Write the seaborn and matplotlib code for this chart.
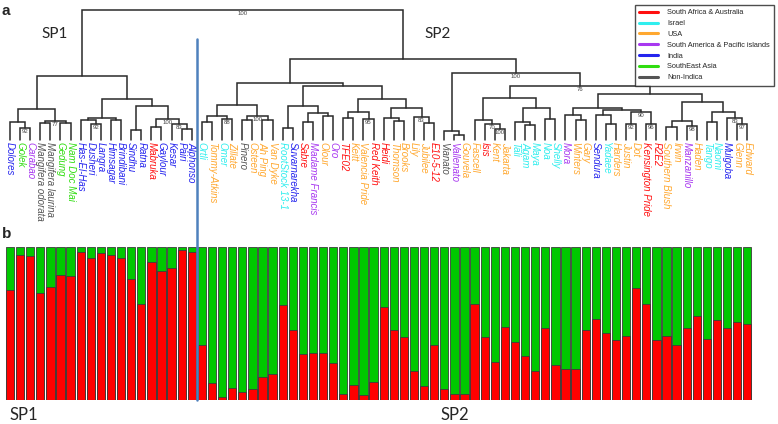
import matplotlib
matplotlib.use("Agg")
import matplotlib.pyplot as plt
import matplotlib.transforms as mtransforms
from matplotlib.lines import Line2D
import pandas as pd
import seaborn as sns

sns.set_style("white")
plt.rcParams["font.family"] = ["Liberation Sans", "DejaVu Sans"]

W, H = 778, 424

# cultivars in the order of the dendrogram leaves
sp1_names = ["Dolores", "Golek", "Carabao", "Mangifera odorata", "Mangifera laurina", "Gedung",
             "Nam Doc Mai", "Has-El-Has", "Dusheri", "Langra", "Himsagar", "Brindibani", "Sindhu",
             "Ratna", "Mabruka", "Gaylour", "Kesar", "Pairi", "Alphonso"]
sp1_origin = ["IN", "SEA", "SAP", "NI", "NI", "SEA", "SEA", "IN", "IN", "IN", "IN", "IN", "IN",
              "IN", "SAA", "IN", "IN", "IN", "IN"]
sp2_names = ["Ortli", "Tommy-Atkins", "Omer", "Zillate", "Pinero", "Osteen", "Ah Ping", "Van Dyke",
             "RootStock 13-1", "Suvarnarekha", "Sabre", "Madame Francis", "Olour", "Oro", "TFE02",
             "Keitt", "Valencia Pride", "Red Keith", "Heidi", "Thomson", "Brooks", "Lily", "Jubilee",
             "E10-5-12", "Vianato", "Vallenato", "Gouvela", "Fascell", "Isis", "Kent", "Jakarta",
             "Tali", "Agam", "Maya", "Noa", "Shelly", "Mora", "Winters", "Gary", "Sendura", "Yadaee",
             "Harders", "Justin", "Dot", "Kensington Pride", "R2E2", "Southern Blush", "Irwin",
             "Manzanillo", "Haden", "Tango", "Naomi", "Mulgoba", "Glenn", "Edward"]
sp2_origin = ["IL", "US", "IL", "US", "NI", "US", "US", "US", "IL", "IN", "SAA", "SAP", "US", "SAP",
              "SAA", "US", "US", "SAA", "SAA", "US", "US", "US", "US", "SAA", "NI", "SAP", "US", "US",
              "SAA", "US", "US", "IL", "IL", "IL", "IL", "IL", "SAP", "US", "US", "IN", "IL", "US",
              "US", "US", "SAA", "SAA", "US", "US", "SAP", "US", "IL", "IL", "IN", "US", "US"]

# proportion of the red (SP1) ancestry per cultivar, same order
sp1_red = [0.72, 0.95, 0.94, 0.70, 0.74, 0.82, 0.81, 0.97, 0.93, 0.96, 0.95, 0.93, 0.79, 0.63,
           0.90, 0.84, 0.86, 0.98, 0.97]
sp2_red = [0.36, 0.11, 0.02, 0.08, 0.05, 0.07, 0.15, 0.17, 0.62, 0.46, 0.30, 0.31, 0.31, 0.24,
           0.04, 0.10, 0.03, 0.12, 0.61, 0.46, 0.41, 0.19, 0.09, 0.36, 0.07, 0.04, 0.04, 0.63,
           0.41, 0.25, 0.48, 0.38, 0.29, 0.19, 0.47, 0.23, 0.20, 0.20, 0.46, 0.53, 0.44, 0.39,
           0.42, 0.73, 0.63, 0.39, 0.42, 0.36, 0.47, 0.55, 0.40, 0.52, 0.47, 0.51, 0.50]

origin_keys = ["SAA", "IL", "US", "SAP", "IN", "SEA", "NI"]
origin_labels = ["South Africa & Australia", "Israel", "USA", "South America & Pacific islands",
                 "India", "SouthEast Asia", "Non-Indica"]
origin_colors = ["#FF1010", "#30EEEE", "#FFA830", "#A838F0", "#2424EE", "#30DD10", "#555555"]

# tree nodes: (left, right, height, bootstrap)
sp1_tree = (
    (("Dolores", ("Golek", "Carabao", 12, 92), 18, None),
     (("Mangifera odorata", "Mangifera laurina", 17, None), ("Gedung", "Nam Doc Mai", 17, None), 19, 77),
     31, None),
    ((("Has-El-Has", ("Dusheri", "Langra", 16, 92), 20, None), ("Himsagar", "Brindibani", 20, None), 22, None),
     (("Sindhu", "Ratna", 10, None),
      (("Mabruka", "Gaylour", 13, None), ("Kesar", ("Pairi", "Alphonso", 11, None), 16, 83), 21, 100),
      34, None),
     41, None),
    64, None)

sp2_tree = (
    (((("Ortli", "Tommy-Atkins", 18, None), ("Omer", "Zillate", 21, 88), 24, None),
      (("Pinero", "Osteen", 20, None), ("Ah Ping", "Van Dyke", 20, None), 24, 100), 35, None),
     ((("RootStock 13-1", "Suvarnarekha", 12, None),
       (("Sabre", "Madame Francis", 18, None), ("Olour", "Oro", 24, None), 27, None), 34, None),
      ((("TFE02", "Keitt", 22, None), ("Valencia Pride", "Red Keith", 21, 95), 28, None),
       (("Heidi", ("Thomson", "Brooks", 19, None), 22, None),
        ("Lily", ("Jubilee", "E10-5-12", 17, None), 23, 83), 32, None), 41, None),
      54, None),
     57, None),
    (("Vianato", ("Vallenato", "Gouvela", 5, None), 9, None),
     ((("Fascell", ("Isis", ("Kent", "Jakarta", 11, 100), 16, 70), 20, None),
       (("Tali", ("Agam", "Maya", 15, None), 18, None), ("Noa", "Shelly", 21, None), 32, None), 42, None),
      ((("Mora", ("Winters", "Gary", 20, None), 25, None),
        (("Sendura", ("Yadaee", "Harders", 16, None), 25, None),
         (("Justin", "Dot", 16, 92), ("Kensington Pride", "R2E2", 16, 96), 28, 90), 30, None), 32, None),
       ((("Southern Blush", "Irwin", 13, None), ("Manzanillo", "Haden", 14, 98), 19, None),
        (("Tango", "Naomi", 18, None), ("Mulgoba", ("Glenn", "Edward", 16, 97), 22, 83), 28, None),
        38, None),
       46, None),
      54, 76),
     67, 100),
    81, None)

tree = (sp1_tree, sp2_tree, 130, 100)

names = sp1_names + sp2_names
origin = sp1_origin + sp2_origin
red = sp1_red + sp2_red
pos = {n: i for i, n in enumerate(names)}
color_of = dict(zip(origin_keys, origin_colors))

fig = plt.figure(figsize=(W / 100, H / 100), dpi=100)
XLIM = (-0.99, 76.04)


def px(x, y):
    return x / W, 1 - y / H


# ---- dendrogram ----
ax_tree = fig.add_axes([0, (H - 140) / H, 1, 140 / H])
ax_tree.set_xlim(*XLIM)
ax_tree.set_ylim(0, 140)
ax_tree.axis("off")


def draw(node):
    if isinstance(node, str):
        return pos[node], 0.0
    left, right, h, boot = node
    xl, hl = draw(left)
    xr, hr = draw(right)
    ax_tree.plot([xl, xl, xr, xr], [hl, h, h, hr], color="#2a2a2a", lw=1.1,
                 solid_joinstyle="miter", clip_on=False)
    if boot is not None:
        ax_tree.text((xl + xr) / 2, h - 0.8, str(boot), ha="center", va="top",
                     fontsize=4.3, color="#444444")
    return (xl + xr) / 2, h


draw(tree)

for i, (n, o) in enumerate(zip(names, origin)):
    ax_tree.text(i, -1.5, n, rotation=270, ha="center", va="top", fontsize=7,
                 style="italic", color=color_of[o], clip_on=False)

# ---- structure bars ----
ax_bar = fig.add_axes([0, (H - 400) / H, 1, 153 / H])
bar_df = pd.DataFrame({"cultivar": names, "red": red, "total": [1.0] * len(names)})
sns.barplot(data=bar_df, x="cultivar", y="total", order=names, color="#00C800",
            saturation=1, width=0.82, edgecolor="#3c3c3c", linewidth=0.6, ax=ax_bar)
sns.barplot(data=bar_df, x="cultivar", y="red", order=names, color="#FF0000",
            saturation=1, width=0.82, edgecolor="#3c3c3c", linewidth=0.6, ax=ax_bar)
ax_bar.set_xlim(*XLIM)
ax_bar.set_ylim(0, 1)
ax_bar.axis("off")

# divider between the two sub-populations
trans = mtransforms.blended_transform_factory(ax_bar.transData, fig.transFigure)
split = len(sp1_names) - 0.5
fig.add_artist(Line2D([split, split], [1 - 39 / H, 1 - 400 / H], transform=trans,
                      color="#4F81BD", lw=1.8))

# panel letters and group names
fig.text(*px(2, 15), "a", fontsize=11, fontweight="bold")
fig.text(*px(2, 238), "b", fontsize=11, fontweight="bold")
fig.text(*px(41, 38), "SP1", fontsize=11, family=["Lato", "DejaVu Sans"])
fig.text(*px(424, 38), "SP2", fontsize=11, family=["Lato", "DejaVu Sans"])
fig.text(*px(9, 420), "SP1", fontsize=12, family=["Lato", "DejaVu Sans"])
fig.text(*px(440, 420), "SP2", fontsize=12, family=["Lato", "DejaVu Sans"])

handles = [Line2D([], [], color=c, lw=2.2) for c in origin_colors]
leg = fig.legend(handles, origin_labels, loc="upper right", bbox_to_anchor=px(778, 1),
                 fontsize=5.3, frameon=True, fancybox=False, edgecolor="#222222",
                 handlelength=2.6, labelspacing=0.5, borderpad=0.6, handletextpad=1.2)
leg.get_frame().set_linewidth(1.0)

fig.savefig("out.png", dpi=100)
